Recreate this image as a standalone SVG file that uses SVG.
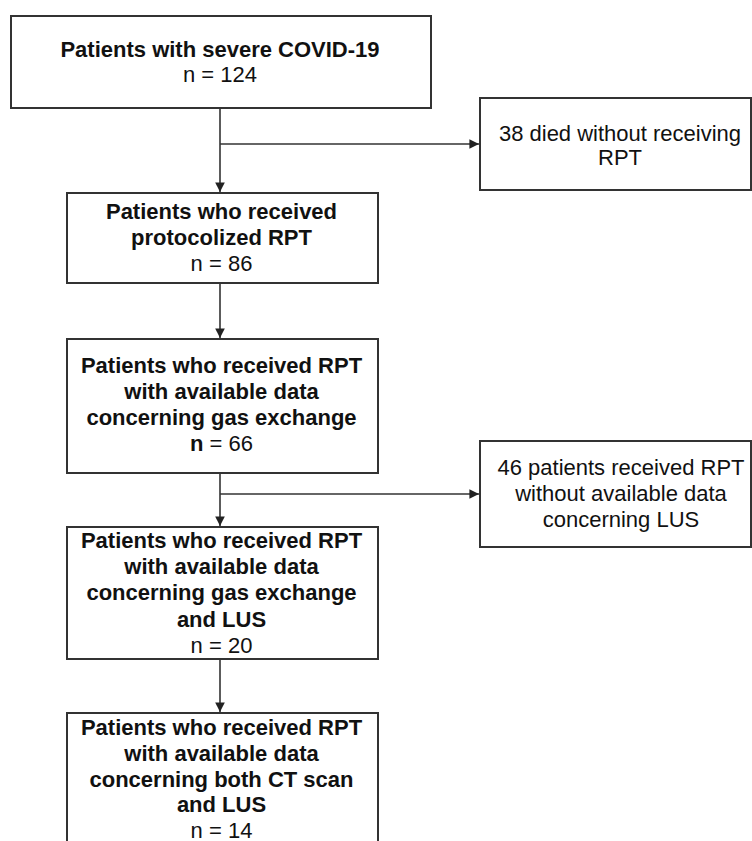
<svg xmlns="http://www.w3.org/2000/svg" width="752" height="841" viewBox="0 0 752 841">
<style>
.box{fill:#fff;stroke:#333;stroke-width:2}
.t{font-family:"Liberation Sans",Arial,sans-serif;font-size:22px;fill:#111;text-anchor:middle}
.b{font-weight:bold}
.ln{fill:none;stroke:#333;stroke-width:1.6}
</style>
<defs>
<marker id="ah" viewBox="0 0 10 10" refX="10" refY="5" markerWidth="6" markerHeight="6" markerUnits="strokeWidth" orient="auto">
<path d="M0,0 L10,5 L0,10 z" fill="#222"/>
</marker>
</defs>
<rect width="752" height="841" fill="#fff"/>
<g id="connectors">
<line class="ln" x1="220" y1="108" x2="220" y2="192" marker-end="url(#ah)"/>
<line class="ln" x1="220" y1="144" x2="479" y2="144" marker-end="url(#ah)"/>
<line class="ln" x1="220" y1="283" x2="220" y2="338" marker-end="url(#ah)"/>
<line class="ln" x1="220" y1="473" x2="220" y2="526" marker-end="url(#ah)"/>
<line class="ln" x1="220" y1="494" x2="479" y2="494" marker-end="url(#ah)"/>
<line class="ln" x1="220" y1="659" x2="220" y2="712" marker-end="url(#ah)"/>
</g>
<g id="n1">
<rect class="box" x="11" y="16" width="420" height="92"/>
<text class="t b" x="220" y="57">Patients with severe COVID-19</text>
<text class="t" x="220" y="82">n = 124</text>
</g>
<g id="n2">
<rect class="box" x="480" y="98" width="271" height="92"/>
<text class="t" x="620" y="141">38 died without receiving</text>
<text class="t" x="620" y="165">RPT</text>
</g>
<g id="n3">
<rect class="box" x="67" y="193" width="311" height="90"/>
<text class="t b" x="221.5" y="219">Patients who received</text>
<text class="t b" x="221.5" y="245">protocolized RPT</text>
<text class="t" x="221.5" y="271">n = 86</text>
</g>
<g id="n4">
<rect class="box" x="67" y="339" width="311" height="134"/>
<text class="t b" x="221.5" y="373">Patients who received RPT</text>
<text class="t b" x="221.5" y="399">with available data</text>
<text class="t b" x="221.5" y="425">concerning gas exchange</text>
<text class="t" x="221.5" y="451"><tspan font-weight="bold">n</tspan> = 66</text>
</g>
<g id="n5">
<rect class="box" x="480" y="441" width="271" height="106"/>
<text class="t" x="621" y="475">46 patients received RPT</text>
<text class="t" x="621" y="501">without available data</text>
<text class="t" x="621" y="527">concerning LUS</text>
</g>
<g id="n6">
<rect class="box" x="67" y="527" width="311" height="132"/>
<text class="t b" x="221.5" y="548">Patients who received RPT</text>
<text class="t b" x="221.5" y="574">with available data</text>
<text class="t b" x="221.5" y="600">concerning gas exchange</text>
<text class="t b" x="221.5" y="627">and LUS</text>
<text class="t" x="221.5" y="653">n = 20</text>
</g>
<g id="n7">
<rect class="box" x="67" y="713" width="311" height="160"/>
<text class="t b" x="221.5" y="735">Patients who received RPT</text>
<text class="t b" x="221.5" y="761">with available data</text>
<text class="t b" x="221.5" y="787">concerning both CT scan</text>
<text class="t b" x="221.5" y="812">and LUS</text>
<text class="t" x="221.5" y="838">n = 14</text>
</g>
</svg>
